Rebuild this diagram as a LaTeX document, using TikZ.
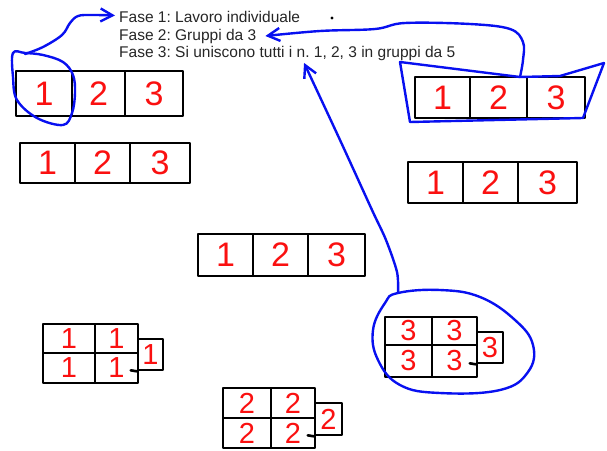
\documentclass[tikz,border=0pt]{standalone}
\usepackage{fontspec}
\setmainfont{Liberation Sans}
\usetikzlibrary{arrows.meta,calc}
\definecolor{penblue}{RGB}{8,16,240}
\definecolor{penred}{RGB}{250,16,16}
\frenchspacing
\begin{document}
\begin{tikzpicture}[x=1pt,y=-1pt,
  cell/.style 2 args={draw=black,line width=2.6pt,line join=round,inner sep=0pt,
    minimum width=#1pt,minimum height=#2pt,text=penred},
  big/.style={font=\fontsize{34}{34}\selectfont},
  small/.style={font=\fontsize{29}{29}\selectfont},
  fase/.style={anchor=base west,inner sep=0pt,font=\fontsize{15.5}{17}\selectfont\frenchspacing,text=black!85},
  pen/.style={draw=penblue,line width=2.4pt,line join=round,line cap=round},
  arr/.style={pen,-{Straight Barb[length=12pt,width=13pt,line width=2.4pt]}}]
\useasboundingbox (0,0) rectangle (607,450);

% texts
\node[fase] (f1) at (119,22) {Fase 1: Lavoro individuale};
\node[fase] (f2) at (119,40) {Fase 2: Gruppi da 3};
\node[fase] (f3) at (119,57.5) {Fase 3: Si uniscono tutti i n. 1, 2, 3 in gruppi da 5};
\node[circle,fill=black,inner sep=1.1pt] (dot) at (332,18) {};

% row A (top left)
\node[cell={56}{45},big] (a1) at (44,93.5) {1};
\node[cell={53}{45},big] (a2) at (98.5,93.5) {2};
\node[cell={58}{45},big] (a3) at (154,93.5) {3};
% row B
\node[cell={55}{40},big] (b1) at (47.5,163) {1};
\node[cell={55}{40},big] (b2) at (102.5,163) {2};
\node[cell={60}{40},big] (b3) at (160,163) {3};
% row C (top right)
\node[cell={55}{41},big] (c1) at (442.5,97.5) {1};
\node[cell={57}{41},big] (c2) at (498.5,97.5) {2};
\node[cell={58}{41},big] (c3) at (556,97.5) {3};
% row D
\node[cell={55}{41},big] (d1) at (435.5,182.5) {1};
\node[cell={55}{41},big] (d2) at (490.5,182.5) {2};
\node[cell={59}{41},big] (d3) at (547.5,182.5) {3};
% row E (middle)
\node[cell={55}{42},big] (e1) at (225.5,255) {1};
\node[cell={55}{42},big] (e2) at (280.5,255) {2};
\node[cell={57}{42},big] (e3) at (336.5,255) {3};

% cluster 1
\node[cell={52}{29},small] (p11) at (69,338.5) {1};
\node[cell={43}{29},small] (p12) at (116.5,338.5) {1};
\node[cell={52}{30},small] (p13) at (69,368) {1};
\node[cell={43}{30},small] (p14) at (116.5,368) {1};
\node[cell={25}{31},small] (p15) at (150.5,354.5) {1};
\draw[line width=2.6pt,line cap=round] (p15.south west) -- ++(-6,-1);
% cluster 2
\node[cell={48}{30},small] (q11) at (247,403) {2};
\node[cell={44}{30},small] (q12) at (293,403) {2};
\node[cell={48}{30},small] (q13) at (247,433) {2};
\node[cell={44}{30},small] (q14) at (293,433) {2};
\node[cell={27}{32},small] (q15) at (328.5,419) {2};
\draw[line width=2.6pt,line cap=round] (q15.south west) -- ++(-6,-1);
% cluster 3
\node[cell={47}{28},small] (r11) at (408.5,331) {3};
\node[cell={45}{28},small] (r12) at (454.5,331) {3};
\node[cell={47}{32},small] (r13) at (408.5,361) {3};
\node[cell={45}{32},small] (r14) at (454.5,361) {3};
\node[cell={26}{31},small] (r15) at (490,347.5) {3};
\draw[line width=2.6pt,line cap=round] (r15.south west) -- ++(-6,-1);

% blue loops
\draw[pen] plot[smooth cycle,tension=0.6] coordinates {(13,53) (13,77) (17,100) (37,118) (63,125) (72,113) (75,93) (73,75) (63,62) (43,55) (25,53)};
\coordinate (l1) at (25,54);
\draw[pen] (400,62) -- (410,122) -- (583,118) -- (604,63) -- (560,76) -- (520,77) -- cycle;
\coordinate (l2) at (520,77);
\draw[pen] plot[smooth cycle,tension=0.7] coordinates {(398,293) (440,290) (480,297) (515,320) (533,345) (528,372) (500,390) (440,393) (400,385) (378,360) (373,330) (385,303)};
\coordinate (l3) at (398,293);

% connectors
\draw[arr] plot[smooth,tension=0.6] coordinates {(l1) (43,47) (62,35) (70,23) (78,16) (92,15) ($(f1.west)+(-4,-1)$)};
\draw[arr] plot[smooth,tension=0.6] coordinates {(l2) (523,60) (523,42) (510,29) (470,24) (405,23) (375,29) (320,31) ($(f2.east)+(9,0)$)};
\draw[arr] plot[smooth,tension=0.5] coordinates {(l3) (397,272) (386,240) (372,210) (340,140) ($($(f3.south west)!0.55!(f3.south east)$)+(0,2)$)};
\end{tikzpicture}
\end{document}
